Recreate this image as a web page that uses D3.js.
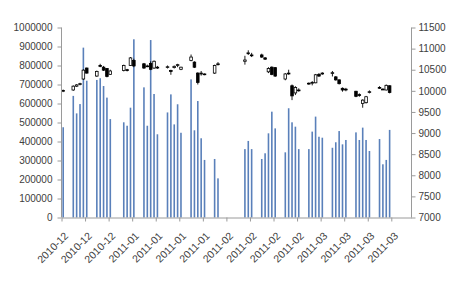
<!DOCTYPE html>
<html>
<head>
<meta charset="utf-8">
<script src="https://cdn.jsdelivr.net/npm/d3@7"></script>
<style>
  body { margin: 0; background: #fff; }
  svg text { font-family: "Liberation Sans", Arial, sans-serif; }
</style>
</head>
<body>
<svg id="chart"></svg>
<script>
// trading days
var dates = ["2010-12-17","2010-12-20","2010-12-21","2010-12-22","2010-12-23","2010-12-24",
  "2010-12-27","2010-12-28","2010-12-29","2010-12-30","2010-12-31",
  "2011-01-04","2011-01-05","2011-01-06","2011-01-07",
  "2011-01-10","2011-01-11","2011-01-12","2011-01-13","2011-01-14",
  "2011-01-17","2011-01-18","2011-01-19","2011-01-20","2011-01-21",
  "2011-01-24","2011-01-25","2011-01-26","2011-01-27","2011-01-28",
  "2011-01-31","2011-02-01",
  "2011-02-09","2011-02-10","2011-02-11",
  "2011-02-14","2011-02-15","2011-02-16","2011-02-17","2011-02-18",
  "2011-02-21","2011-02-22","2011-02-23","2011-02-24","2011-02-25",
  "2011-02-28","2011-03-01","2011-03-02","2011-03-03","2011-03-04",
  "2011-03-07","2011-03-08","2011-03-09","2011-03-10","2011-03-11",
  "2011-03-14","2011-03-15","2011-03-16","2011-03-17","2011-03-18",
  "2011-03-21","2011-03-22","2011-03-23","2011-03-24"];

var volume = [475000,640000,548000,597000,894000,720000,
  724000,733000,692000,631000,518000,
  501000,483000,578000,938000,
  685000,483000,934000,650000,438000,
  553000,648000,490000,596000,446000,
  727000,459000,613000,417000,303000,
  308000,206000,
  360000,403000,360000,
  308000,338000,443000,557000,469000,
  343000,575000,501000,478000,360000,
  360000,452000,531000,425000,420000,
  367000,396000,455000,385000,408000,
  448000,408000,473000,408000,350000,
  413000,280000,303000,461000];

var open = [9990,10020,10110,10150,10280,10540,
  10350,10600,10560,10530,10390,
  10480,10500,10600,10720,
  10640,10580,10650,10540,10560,
  10560,10480,10550,10600,10510,
  10720,10680,10420,10400,10400,
  10420,10620,
  10700,10880,10850,
  10850,10780,10450,10560,10550,
  10280,10420,10120,9950,10020,
  10170,10180,10190,10390,10400,
  10420,10330,10260,10060,10040,
  9990,9910,9700,9720,9960,
  10080,10040,10020,10120];

var high = [10030,10130,10160,10190,10510,10550,
  10480,10640,10590,10540,10500,
  10620,10520,10800,10760,
  10660,10620,10700,10720,10590,
  10600,10500,10600,10640,10570,
  10860,10700,10440,10470,10410,
  10620,10680,
  10830,10960,10900,
  10880,10800,10560,10580,10560,
  10420,10500,10150,10110,10060,
  10200,10230,10400,10420,10440,
  10470,10350,10270,10080,10070,
  10000,9940,9800,9880,10010,
  10110,10060,10150,10130];

var low = [9970,10000,10090,10130,10260,10410,
  10330,10560,10470,10320,10380,
  10460,10460,10590,10560,
  10520,10560,10490,10520,10520,
  10530,10380,10530,10560,10490,
  10700,10540,10150,10360,10370,
  10400,10600,
  10620,10850,10800,
  10780,10730,10420,10370,10330,
  10250,10380,9780,9900,9980,
  10140,10130,10180,10330,10380,
  10340,10240,10150,9980,9990,
  9850,9860,9600,9700,9940,
  10050,10020,10010,9940];

var close = [10010,10110,10140,10170,10490,10420,
  10460,10580,10490,10340,10470,
  10600,10480,10780,10590,
  10540,10590,10510,10700,10540,
  10570,10460,10580,10620,10560,
  10800,10560,10200,10420,10390,
  10600,10640,
  10730,10900,10830,
  10800,10750,10530,10390,10350,
  10400,10400,9880,10080,10010,
  10180,10200,10380,10350,10420,
  10430,10260,10170,10020,10030,
  9870,9900,9780,9860,9980,
  10070,10030,10130,9960];

var tickDates = ["2010-12-17","2010-12-24","2010-12-31","2011-01-07","2011-01-14",
  "2011-01-21","2011-01-28","2011-02-04","2011-02-11","2011-02-18","2011-02-25",
  "2011-03-04","2011-03-11","2011-03-18","2011-03-25"];

var volTicks = d3.range(0, 1000001, 100000);
var priceTicks = d3.range(7000, 11501, 500);

var parse = d3.timeParse("%Y-%m-%d");
var fmt = d3.timeFormat("%Y-%m");

var data = dates.map(function(d, i) {
  return {date: parse(d), vol: volume[i], o: open[i], h: high[i], l: low[i], c: close[i]};
});

var width = 450, height = 300;
// plot box (don't use "top" as a global, it's window.top)
var plotL = 61.5, plotR = 411.5, plotT = 27.5, plotB = 217.5;

var svg = d3.select("#chart").attr("width", width).attr("height", height);

var x = d3.scaleTime()
  .domain([parse("2010-12-17"), parse("2011-03-31")])
  .range([plotL, plotR]);
var halfDay = (x(parse("2010-12-18")) - x(parse("2010-12-17"))) / 2;

var yVol = d3.scaleLinear().domain([0, 1000000]).range([plotB, plotT]);
var yPrice = d3.scaleLinear().domain([7000, 11500]).range([plotB, plotT]);

// volume bars
svg.append("g").selectAll("rect")
  .data(data)
  .enter().append("rect")
    .attr("x", function(d) { return x(d.date) + halfDay - 0.8; })
    .attr("y", function(d) { return yVol(d.vol); })
    .attr("width", 1.6)
    .attr("height", function(d) { return plotB - yVol(d.vol); })
    .attr("fill", "#5a80ba");

// candles
var candle = svg.append("g").selectAll("g")
  .data(data)
  .enter().append("g");

candle.append("line")
  .attr("x1", function(d) { return x(d.date) + halfDay; })
  .attr("x2", function(d) { return x(d.date) + halfDay; })
  .attr("y1", function(d) { return yPrice(d.h); })
  .attr("y2", function(d) { return yPrice(d.l); })
  .attr("stroke", "#000")
  .attr("stroke-width", 0.9);

candle.append("rect")
  .attr("x", function(d) { return x(d.date) + halfDay - 1.3; })
  .attr("y", function(d) { return yPrice(Math.max(d.o, d.c)); })
  .attr("width", 2.6)
  .attr("height", function(d) { return Math.max(0.8, Math.abs(yPrice(d.o) - yPrice(d.c))); })
  .attr("fill", function(d) { return d.c >= d.o ? "#fff" : "#000"; })
  .attr("stroke", "#000")
  .attr("stroke-width", 0.8);

// axes
var axisColor = "#9a9a9a", textColor = "#404040";

var gL = svg.append("g")
  .attr("transform", "translate(" + plotL + ",0)")
  .call(d3.axisLeft(yVol).tickValues(volTicks).tickSize(4).tickPadding(5).tickFormat(d3.format("d")));

var gR = svg.append("g")
  .attr("transform", "translate(" + plotR + ",0)")
  .call(d3.axisRight(yPrice).tickValues(priceTicks).tickSize(4).tickPadding(3).tickFormat(d3.format("d")));

var gB = svg.append("g")
  .attr("transform", "translate(0," + plotB + ")")
  .call(d3.axisBottom(x).tickValues(tickDates.map(parse)).tickSize(4).tickSizeOuter(0).tickFormat(fmt));

[gL, gR, gB].forEach(function(g) {
  g.attr("font-family", "Liberation Sans, Arial, sans-serif");
  g.select(".domain").attr("stroke", axisColor);
  g.selectAll(".tick line").attr("stroke", axisColor);
  g.selectAll(".tick text").attr("fill", textColor).style("font-size", "10px");
});
gL.select(".domain").attr("d", "M0," + plotB + "V" + plotT);
gR.select(".domain").attr("d", "M0," + plotB + "V" + plotT);

gB.selectAll(".tick text")
  .style("font-size", "10.5px")
  .attr("text-anchor", "end")
  .attr("dy", null)
  .attr("y", 0)
  .attr("transform", "translate(7,19) rotate(-45)");
</script>
</body>
</html>
